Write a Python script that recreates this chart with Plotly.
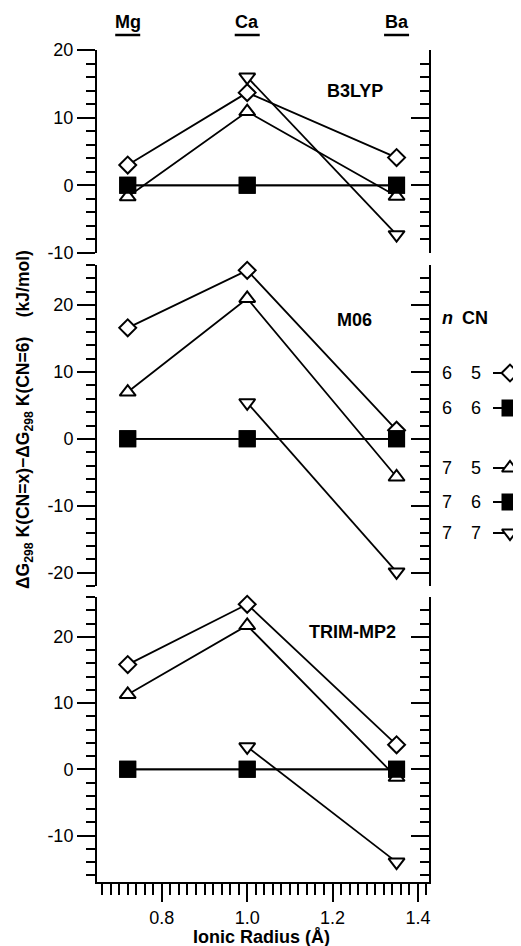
import plotly.graph_objects as go

# ---------------- data ----------------
radius = [0.72, 1.00, 1.35]
elements = ["Mg", "Ca", "Ba"]

# B3LYP
b3_n6_cn5 = [3.0, 13.7, 4.1]
b3_n6_cn6 = [0.0, 0.0, 0.0]
b3_n7_cn5 = [-1.7, 10.9, -1.6]
b3_n7_cn6 = [0.0, 0.0, 0.0]
b3_n7_cn7 = [None, 16.0, -7.3]

# M06
m06_n6_cn5 = [16.6, 25.2, 1.3]
m06_n6_cn6 = [0.0, 0.0, 0.0]
m06_n7_cn5 = [7.0, 21.0, -5.7]
m06_n7_cn6 = [0.0, 0.0, 0.0]
m06_n7_cn7 = [None, 5.4, -19.9]

# TRIM-MP2
tr_n6_cn5 = [15.8, 24.9, 3.7]
tr_n6_cn6 = [0.0, 0.0, 0.0]
tr_n7_cn5 = [11.3, 21.7, -1.2]
tr_n7_cn6 = [0.0, 0.0, 0.0]
tr_n7_cn7 = [None, 3.4, -14.0]

panel_names = ["B3LYP", "M06", "TRIM-MP2"]
legend_n = ["6", "6", "7", "7", "7"]
legend_cn = ["5", "6", "5", "6", "7"]

x_ticks = [0.8, 1.0, 1.2, 1.4]
x_ticktext = ["0.8", "1.0", "1.2", "1.4"]

# ---------------- layout helpers ----------------
# the page body has an 8px margin, so the figure is drawn 8px in from the
# window's top-left corner; window pixel positions are converted accordingly
WIN_W, WIN_H = 521, 946
OFF = 8
W, H = WIN_W - OFF, WIN_H - OFF
FONT = "Liberation Sans, Arial, Helvetica, sans-serif"


def fx(p):
    return (p - OFF) / W


def fy(p):
    return 1 - (p - OFF) / H


styles = [
    dict(symbol="diamond-open", size=13, fill="white"),
    dict(symbol="square", size=15, fill="black"),
    dict(symbol="triangle-up-open", size=14, fill="white"),
    dict(symbol="square", size=15, fill="black"),
    dict(symbol="triangle-down-open", size=14, fill="white"),
]

fig = go.Figure()

panels = [
    ("y3", [b3_n6_cn5, b3_n6_cn6, b3_n7_cn5, b3_n7_cn6, b3_n7_cn7]),
    ("y2", [m06_n6_cn5, m06_n6_cn6, m06_n7_cn5, m06_n7_cn6, m06_n7_cn7]),
    ("y", [tr_n6_cn5, tr_n6_cn6, tr_n7_cn5, tr_n7_cn6, tr_n7_cn7]),
]

for yref, series in panels:
    for st, vals in zip(styles, series):
        sym = st["symbol"].replace("-open", "")
        fig.add_trace(go.Scatter(
            x=radius, y=vals, xaxis="x", yaxis=yref,
            mode="lines+markers", connectgaps=False,
            line=dict(color="black", width=1.8),
            marker=dict(symbol=sym, size=st["size"], color=st["fill"],
                        line=dict(color="black", width=2)),
            showlegend=False, hoverinfo="skip", cliponaxis=False,
        ))

# legend keys drawn on a window-pixel overlay axis
leg_rows_y = [373, 408, 468, 502, 533]
for st, yy in zip(styles, leg_rows_y):
    sym = st["symbol"].replace("-open", "")
    fig.add_trace(go.Scatter(
        x=[493, 510, 530], y=[yy, yy, yy], xaxis="x2", yaxis="y7",
        mode="lines", line=dict(color="black", width=1.8),
        showlegend=False, hoverinfo="skip", cliponaxis=False,
    ))
    fig.add_trace(go.Scatter(
        x=[510], y=[yy], xaxis="x2", yaxis="y7",
        mode="markers",
        marker=dict(symbol=sym, size=st["size"], color=st["fill"],
                    line=dict(color="black", width=2)),
        showlegend=False, hoverinfo="skip", cliponaxis=False,
    ))

x_dom = [fx(97), fx(429)]
dom_p1 = [fy(253), fy(50)]
dom_p2 = [fy(586), fy(265)]
dom_p3 = [fy(882), fy(597)]


def left_axis(dom, rng, major):
    return dict(
        domain=dom, range=rng, anchor="x", side="left", automargin=False,
        showline=True, linewidth=2, linecolor="black",
        showgrid=False, zeroline=False,
        tickmode="array", tickvals=major, ticktext=[str(v) for v in major],
        ticks="outside", ticklen=18, tickwidth=2, tickcolor="black",
        tickfont=dict(family=FONT, size=18, color="black"),
        minor=dict(dtick=2, tick0=0, ticks="outside", ticklen=9,
                   tickwidth=2, tickcolor="black", showgrid=False),
    )


def right_axis(over, rng, major):
    return dict(
        overlaying=over, range=rng, anchor="x", side="right", automargin=False,
        showline=True, linewidth=2, linecolor="black",
        showgrid=False, zeroline=False, showticklabels=False,
        tickmode="array", tickvals=major,
        ticks="inside", ticklen=18, tickwidth=2, tickcolor="black",
        minor=dict(dtick=2, tick0=0, ticks="inside", ticklen=9,
                   tickwidth=2, tickcolor="black", showgrid=False),
    )


r1, r2, r3 = [-10, 20], [-22, 26], [-17, 26]
t1, t2, t3 = [-10, 0, 10, 20], [-20, -10, 0, 10, 20], [-10, 0, 10, 20]

# dummy traces so the right axes get drawn
for ax in ["y4", "y5", "y6"]:
    fig.add_trace(go.Scatter(x=[None], y=[None], xaxis="x", yaxis=ax,
                             showlegend=False, hoverinfo="skip"))

fig.update_layout(
    template="none",
    width=W, height=H, autosize=False,
    margin=dict(l=0, r=0, t=0, b=0, pad=0),
    paper_bgcolor="white", plot_bgcolor="rgba(0,0,0,0)",
    font=dict(family=FONT, size=18, color="black"),
    xaxis=dict(
        domain=x_dom, range=[0.648, 1.426], anchor="y", automargin=False,
        showline=True, linewidth=2, linecolor="black",
        showgrid=False, zeroline=False,
        tickmode="array", tickvals=x_ticks, ticktext=x_ticktext,
        ticks="outside", ticklen=18, tickwidth=2, tickcolor="black",
        tickfont=dict(family=FONT, size=18, color="black"),
        minor=dict(dtick=0.02, tick0=0.6, ticks="outside", ticklen=11,
                   tickwidth=2, tickcolor="black", showgrid=False),
    ),
    xaxis2=dict(domain=[0, 1], range=[OFF, WIN_W], anchor="y7", visible=False,
                fixedrange=True, automargin=False),
    yaxis=left_axis(dom_p3, r3, t3),
    yaxis2=left_axis(dom_p2, r2, t2),
    yaxis3=left_axis(dom_p1, r1, t1),
    yaxis4=right_axis("y", r3, t3),
    yaxis5=right_axis("y2", r2, t2),
    yaxis6=right_axis("y3", r1, t1),
    yaxis7=dict(domain=[0, 1], range=[WIN_H, OFF], anchor="x2", visible=False,
                fixedrange=True, automargin=False),
)

ann = []
shapes = []
# element labels with underline
for el, xv in zip(elements, radius):
    ann.append(dict(x=xv, y=fy(22), xref="x", yref="paper", text=f"<b>{el}</b>",
                    showarrow=False, xanchor="center", yanchor="middle",
                    font=dict(family=FONT, size=18, color="black")))
    hw = 12.5 / 426.7
    shapes.append(dict(type="line", xref="x", yref="paper",
                       x0=xv - hw, x1=xv + hw, y0=fy(35), y1=fy(35),
                       line=dict(color="black", width=2.5)))

# panel labels
for name, (px_c, py_c) in zip(panel_names, [(355, 91), (354, 320), (352, 632)]):
    ann.append(dict(x=fx(px_c), y=fy(py_c), xref="paper", yref="paper",
                    text=f"<b>{name}</b>", showarrow=False,
                    xanchor="center", yanchor="middle",
                    font=dict(family=FONT, size=18, color="black")))

# legend text
ann.append(dict(x=fx(447), y=fy(318), xref="paper", yref="paper",
                text="<b><i>n</i></b>", showarrow=False, xanchor="center",
                yanchor="middle", font=dict(family=FONT, size=18, color="black")))
ann.append(dict(x=fx(475), y=fy(318), xref="paper", yref="paper",
                text="<b>CN</b>", showarrow=False, xanchor="center",
                yanchor="middle", font=dict(family=FONT, size=18, color="black")))
for nn, cc, yy in zip(legend_n, legend_cn, leg_rows_y):
    ann.append(dict(x=fx(447), y=fy(yy), xref="paper", yref="paper", text=nn,
                    showarrow=False, xanchor="center", yanchor="middle",
                    font=dict(family=FONT, size=18, color="black")))
    ann.append(dict(x=fx(476), y=fy(yy), xref="paper", yref="paper", text=cc,
                    showarrow=False, xanchor="center", yanchor="middle",
                    font=dict(family=FONT, size=18, color="black")))

# axis titles
ann.append(dict(x=fx(261), y=fy(937), xref="paper", yref="paper",
                text="<b>Ionic Radius (Å)</b>", showarrow=False,
                xanchor="center", yanchor="middle",
                font=dict(family=FONT, size=18, color="black")))
nb = "\u00a0"
ytitle = ("ΔG<sub>298</sub> K(CN=x)−ΔG<sub>298</sub> K(CN=6)" + nb * 4 + "(kJ/mol)")
ann.append(dict(x=fx(25), y=fy(420), xref="paper", yref="paper",
                text=f"<b>{ytitle}</b>", showarrow=False, textangle=-90,
                xanchor="center", yanchor="middle",
                font=dict(family=FONT, size=17.5, color="black")))

fig.update_layout(annotations=ann, shapes=shapes)

fig.write_html("out.html")
